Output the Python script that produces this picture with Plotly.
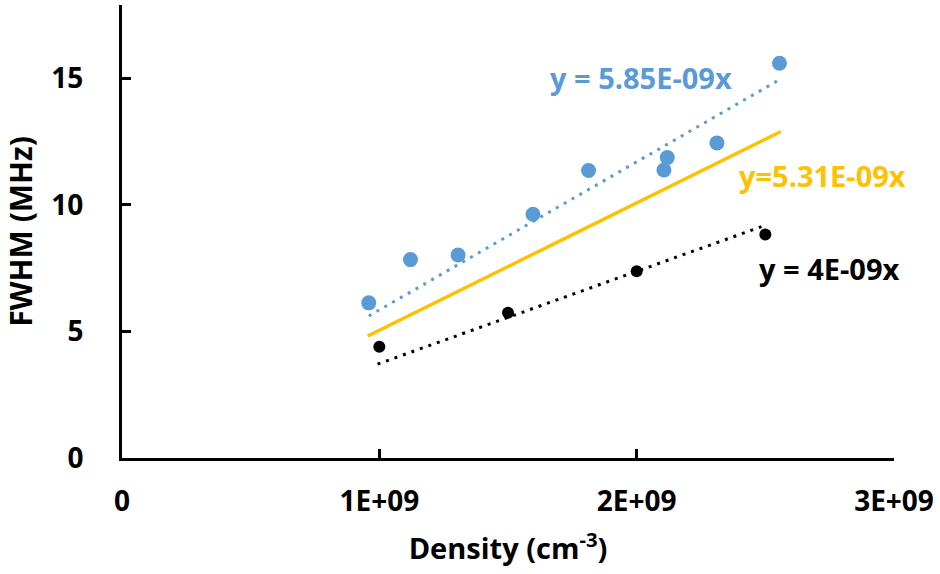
import plotly.graph_objects as go

# Data
blue_x = [0.959e9, 1.121e9, 1.306e9, 1.597e9, 1.813e9, 2.106e9, 2.119e9, 2.312e9, 2.555e9]
blue_y = [6.13, 7.84, 8.02, 9.63, 11.36, 11.38, 11.87, 12.45, 15.6]
black_x = [1.0e9, 1.5e9, 2.0e9, 2.5e9]
black_y = [4.40, 5.74, 7.38, 8.83]
# Trendlines (fitted lines as drawn)
blue_fit_x = [0.959e9, 2.545e9]
blue_fit_y = [5.61, 14.89]
yellow_fit_x = [0.955e9, 2.56e9]
yellow_fit_y = [4.82, 12.9]
black_fit_x = [0.993e9, 2.485e9]
black_fit_y = [3.71, 9.14]

labels = ["y = 5.85E-09x", "y=5.31E-09x", "y = 4E-09x"]
label_x = [1.654e9, 2.388e9, 2.466e9]
label_y = [15.03, 11.16, 7.49]

BLUE = "#5B9BD5"
YELLOW = "#FFC000"
BLACK = "#000000"
FONT = "Open Sans"

fig = go.Figure()
fig.add_trace(go.Scatter(x=blue_fit_x, y=blue_fit_y, mode="lines",
                         line=dict(color=BLUE, width=3, dash="3px,6px"), showlegend=False))
fig.add_trace(go.Scatter(x=yellow_fit_x, y=yellow_fit_y, mode="lines",
                         line=dict(color=YELLOW, width=3.5), showlegend=False))
fig.add_trace(go.Scatter(x=black_fit_x, y=black_fit_y, mode="lines",
                         line=dict(color=BLACK, width=3, dash="3px,6px"), showlegend=False))
fig.add_trace(go.Scatter(x=blue_x, y=blue_y, mode="markers",
                         marker=dict(color=BLUE, size=15), showlegend=False))
fig.add_trace(go.Scatter(x=black_x, y=black_y, mode="markers",
                         marker=dict(color=BLACK, size=12), showlegend=False))

for t, x, y, c in zip(labels, label_x, label_y, [BLUE, YELLOW, BLACK]):
    fig.add_annotation(x=x, y=y, text=f"<b>{t}</b>", showarrow=False,
                       xanchor="left", yanchor="middle",
                       font=dict(family=FONT, size=29, color=c))

fig.update_layout(
    width=940, height=574,
    margin=dict(l=122, r=46, t=5, b=116),
    plot_bgcolor="white", paper_bgcolor="white",
    font=dict(family=FONT, size=28, color="black"),
    xaxis=dict(range=[0, 3e9], tickvals=[0, 1e9, 2e9, 3e9],
               ticktext=["<b>0</b>", "<b>1E+09</b>", "<b>2E+09</b>", "<b>3E+09</b>"],
               showgrid=False, zeroline=False, showline=True, linecolor="black", linewidth=3,
               ticks="inside", ticklen=9, tickwidth=3, tickcolor="black",
               ticklabelstandoff=16,
               title=dict(text="<b>Density (cm<sup>-3</sup>)</b>", standoff=22,
                          font=dict(family=FONT, size=29))),
    yaxis=dict(range=[0, 17.9], tickvals=[0, 5, 10, 15],
               ticktext=["<b>0</b>", "<b>5</b>", "<b>10</b>", "<b>15</b>"],
               showgrid=False, zeroline=False, showline=True, linecolor="black", linewidth=3,
               ticks="inside", ticklen=9, tickwidth=3, tickcolor="black",
               ticklabelstandoff=30,
               title=dict(text="<b>FWHM (MHz)</b>", standoff=10,
                          font=dict(family=FONT, size=30))),
)

fig.write_html("out.html")
